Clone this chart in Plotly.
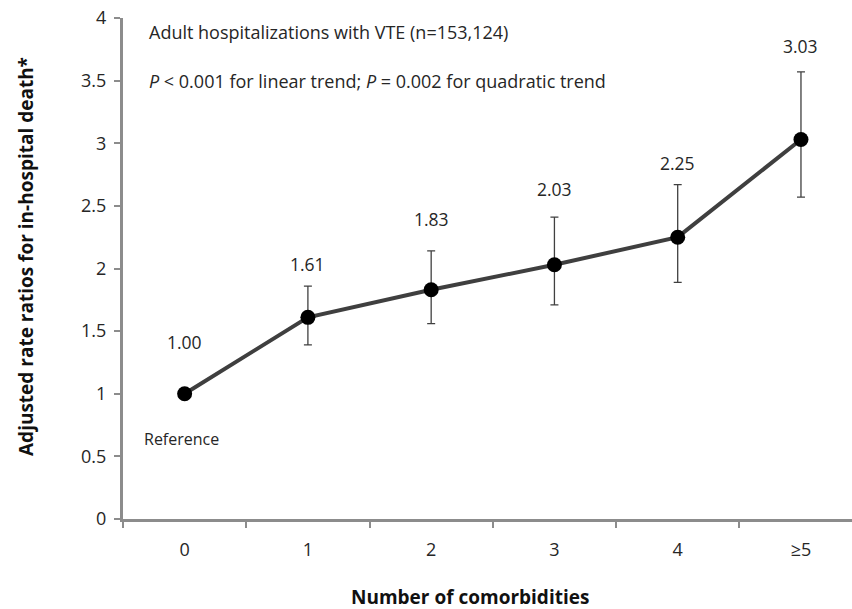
import plotly.graph_objects as go

categories = ["0", "1", "2", "3", "4", "≥5"]
rate_ratios = [1.00, 1.61, 1.83, 2.03, 2.25, 3.03]
ci_upper = [1.00, 1.86, 2.14, 2.41, 2.67, 3.57]
ci_lower = [1.00, 1.39, 1.56, 1.71, 1.89, 2.57]
value_labels = ["1.00", "1.61", "1.83", "2.03", "2.25", "3.03"]
y_ticks = [0, 0.5, 1, 1.5, 2, 2.5, 3, 3.5, 4]
y_tick_text = ["0", "0.5", "1", "1.5", "2", "2.5", "3", "3.5", "4"]

FONT = "Open Sans"
TXT = "#262626"
label_shift = [52, 22, 32, 28, 22, 26]

err_plus = [u - v for u, v in zip(ci_upper, rate_ratios)]
err_minus = [v - l for v, l in zip(rate_ratios, ci_lower)]
has_err = [u != l for u, l in zip(ci_upper, ci_lower)]

W, H = 852, 609
# plot area in page pixels: x 123..852, y 18..519
L, R, T, B = 123, 0, 18, H - 519
PW, PH = W - L - R, H - T - B


def px(xw):
    return (xw - L) / PW


def py(yw):
    return 1 - (yw - T) / PH


fig = go.Figure()
fig.add_trace(go.Scatter(
    x=categories, y=rate_ratios, mode="lines+markers",
    line=dict(color="#3f3f3f", width=4),
    marker=dict(color="black", size=15),
    error_y=dict(type="data", symmetric=False,
                 array=[p if h else None for p, h in zip(err_plus, has_err)],
                 arrayminus=[m if h else None for m, h in zip(err_minus, has_err)],
                 color="#404040", thickness=1.3, width=4),
    showlegend=False, cliponaxis=False, hoverinfo="skip",
))

annotations = []
for c, v, u, lab, sh in zip(categories, rate_ratios, ci_upper, value_labels, label_shift):
    annotations.append(dict(x=c, y=max(v, u), xref="x", yref="y", text=lab,
                            showarrow=False, yshift=sh, yanchor="middle",
                            font=dict(family=FONT, size=17.5, color=TXT)))

annotations.append(dict(x="0", y=1.0, xref="x", yref="y", text="Reference",
                        showarrow=False, yshift=-45, xshift=-3, yanchor="middle",
                        font=dict(family=FONT, size=16, color=TXT)))
annotations.append(dict(x=px(147), y=py(32), xref="paper", yref="paper",
                        text="Adult hospitalizations with VTE (n=153,124)",
                        showarrow=False, xanchor="left", yanchor="middle",
                        font=dict(family=FONT, size=18, color=TXT)))
annotations.append(dict(x=px(147), y=py(81), xref="paper", yref="paper",
                        text="<i>P</i> < 0.001 for linear trend; <i>P</i> = 0.002 for quadratic trend",
                        showarrow=False, xanchor="left", yanchor="middle",
                        font=dict(family=FONT, size=18, color=TXT)))
annotations.append(dict(x=px(470), y=py(597), xref="paper", yref="paper",
                        text="<b>Number of comorbidities</b>",
                        showarrow=False, xanchor="center", yanchor="middle",
                        font=dict(family=FONT, size=19, color="#111111")))
annotations.append(dict(x=px(26), y=py(257), xref="paper", yref="paper",
                        text="<b>Adjusted rate ratios for in-hospital death*</b>",
                        showarrow=False, xanchor="center", yanchor="middle", textangle=-90,
                        font=dict(family=FONT, size=19, color="#111111")))

fig.update_layout(
    width=W, height=H,
    margin=dict(l=L, r=R, t=T, b=B, autoexpand=False),
    plot_bgcolor="white", paper_bgcolor="white",
    annotations=annotations,
    hovermode=False,
    xaxis=dict(type="category", range=[-0.5, 5.414], tickson="boundaries",
               ticks="outside", ticklen=6, tickwidth=2, tickcolor="#8c8c8c",
               showline=True, linecolor="#8c8c8c", linewidth=3,
               showgrid=False, zeroline=False, automargin=False,
               ticklabelstandoff=12, ticklabeloverflow="allow",
               tickfont=dict(family=FONT, size=18, color=TXT)),
    yaxis=dict(range=[0, 4], tickvals=y_ticks, ticktext=y_tick_text,
               ticks="outside", ticklen=6, tickwidth=2, tickcolor="#8c8c8c",
               showline=True, linecolor="#8c8c8c", linewidth=3,
               showgrid=False, zeroline=False, automargin=False,
               ticklabelstandoff=4, ticklabeloverflow="allow",
               tickfont=dict(family=FONT, size=18, color=TXT)),
)

fig.write_html("out.html",
               config={"displayModeBar": False, "staticPlot": True},
               post_script="document.body.style.margin='0';document.body.style.overflow='hidden';")
